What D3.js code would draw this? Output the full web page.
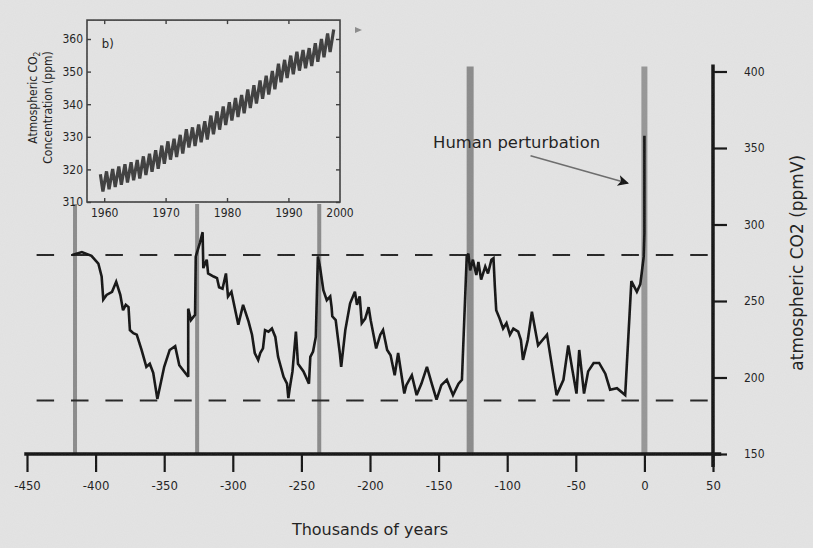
<!DOCTYPE html>
<html>
<head>
<meta charset="utf-8">
<script src="https://cdn.jsdelivr.net/npm/d3@7"></script>
<style>
  html, body { margin: 0; padding: 0; background: #e4e4e4; }
  svg { display: block; }
  text { fill: #1a1a1a; }
</style>
</head>
<body>
<svg id="chart" width="813" height="548"></svg>
<script>
// Vostok record, thousands of years vs CO2 (ppmV)
var kyr = [-417, -410, -403, -398, -395.6, -394.4, -392, -388, -385, -382, -380, -378, -376, -375, -372.5, -370,
  -366.5, -363, -360.5, -358, -355, -350, -346, -342, -339, -332.5, -332.5, -330.5, -327.5, -327, -324, -322,
  -321.5, -319, -318, -314, -311.5, -310, -307.5, -305, -303.5, -301, -299.5, -296, -292.5, -288.5, -286, -284,
  -281.5, -280, -278, -276.5, -274, -271.5, -269, -267, -263, -260.5, -259.5, -258.5, -256.5, -254, -252.5,
  -248.5, -244.5, -243.5, -241.5, -239.5, -238, -236.5, -234, -231.5, -229, -228, -227.5, -225, -223.5, -222,
  -221, -218, -214.5, -211, -209.5, -207.5, -206, -203.5, -201, -199.5, -195.5, -192.5, -190.5, -187.5, -185,
  -182, -179.5, -175, -173.5, -169.5, -166, -162.5, -158.5, -155, -151.5, -148, -144, -139.5, -135.5, -133,
  -129.5, -128.3, -127, -125, -122.5, -121, -119, -116, -114, -111.5, -110, -109, -108, -105.5, -103, -100.5,
  -98, -95.5, -92, -90, -88.5, -85, -82, -77.5, -71, -64, -59, -55.5, -52.5, -49.5, -47.5, -44, -41, -37, -33,
  -28.5, -25, -20, -14, -9.5, -5.5, -3, -2, -0.5, 0, 0];
var co2 = [280, 282, 279.5, 274.5, 266, 251, 254, 256, 262.5, 254, 244, 247.5, 246, 231, 229, 228,
  218, 207, 209, 203, 186, 207, 218, 220.5, 208, 200.5, 245, 237.5, 241, 279, 288, 295,
  271.5, 277, 268, 266, 265, 259, 258, 268, 253, 256, 249.5, 234.5, 247.5, 236.5, 228, 216,
  211.5, 216, 219, 231, 230, 232, 226.5, 213.5, 200.5, 196, 186.5, 193, 204, 230, 209,
  204, 196, 213.5, 217, 226.5, 279, 272.5, 257, 250.5, 253, 246, 240, 237.5, 226.5, 216,
  207, 231, 248.5, 256, 247.5, 253, 235.5, 238.5, 246, 237.5, 219, 228, 231, 218, 214.5,
  201.5, 216, 189.5, 195, 201.5, 188.5, 196, 207, 196, 185.5, 195, 198.5, 188.5, 196, 198.5,
  279, 281, 270, 277, 267, 275.5, 264, 272.5, 268, 277, 278, 259.5, 244, 238.5, 232, 235.5,
  228, 232, 230, 224.5, 211.5, 224.5, 243, 221, 228, 188.5, 198.5, 221, 205, 189.5, 218, 189.5, 204, 209.5, 209.5,
  202.5, 192, 193, 188.5, 263, 256, 261, 268, 279, 294, 358];

// interglacial markers and glacial / interglacial bounds
var interglacials = [-415, -326, -237, -127, 0];
var bounds = [280, 185];

var xTicks = [-450, -400, -350, -300, -250, -200, -150, -100, -50, 0, 50];
var yTicks = [150, 200, 250, 300, 350, 400];

// inset b): Mauna Loa, yearly spring high and autumn low (ppm)
var insetYears = [1959, 1960, 1961, 1962, 1963, 1964, 1965, 1966, 1967, 1968, 1969, 1970, 1971, 1972, 1973,
  1974, 1975, 1976, 1977, 1978, 1979, 1980, 1981, 1982, 1983, 1984, 1985, 1986, 1987, 1988, 1989, 1990, 1991,
  1992, 1993, 1994, 1995, 1996, 1997];
var insetHigh = [318.5, 319.4, 320.1, 320.9, 321.6, 322.2, 322.9, 324.0, 324.8, 325.9, 327.3, 328.6, 329.4,
  330.6, 332.3, 332.9, 333.8, 334.8, 336.5, 337.8, 339.3, 340.6, 341.9, 342.8, 344.5, 345.8, 347.3, 348.7,
  350.2, 352.4, 353.6, 354.9, 356.1, 356.6, 357.2, 358.7, 360.0, 361.7, 362.9];
var insetLow = [313.2, 313.9, 314.6, 315.3, 316.0, 316.7, 317.2, 318.3, 319.3, 320.2, 321.7, 323.0, 323.8,
  324.9, 326.7, 327.2, 328.3, 329.2, 330.8, 332.2, 333.6, 335.0, 336.1, 337.2, 338.8, 340.2, 341.7, 343.0,
  344.6, 346.7, 348.0, 349.2, 350.3, 351.0, 351.7, 353.0, 354.4, 356.0];
var insetXTicks = [1960, 1970, 1980, 1990];
var insetYTicks = [310, 320, 330, 340, 350, 360];

var svg = d3.select("#chart");
var bg = "#e4e4e4";

// a little paper grain
var defs = svg.append("defs");
var grain = defs.append("filter").attr("id", "grain");
grain.append("feTurbulence").attr("type", "fractalNoise").attr("baseFrequency", 0.9).attr("numOctaves", 2).attr("seed", 3);
grain.append("feColorMatrix").attr("type", "matrix")
  .attr("values", "0 0 0 0 0.5  0 0 0 0 0.5  0 0 0 0 0.5  0 0 0 0.10 0");
defs.append("marker")
    .attr("id", "head")
    .attr("viewBox", "0 0 10 10")
    .attr("refX", 9).attr("refY", 5)
    .attr("markerWidth", 12).attr("markerHeight", 11)
    .attr("markerUnits", "userSpaceOnUse")
    .attr("orient", "auto")
  .append("path").attr("d", "M0,0 L10,5 L0,10 L2.5,5 Z").attr("fill", "#111");

svg.append("rect").attr("width", 813).attr("height", 548).attr("fill", bg);

var x = d3.scaleLinear().domain([-450, 50]).range([27, 713]);
var y = d3.scaleLinear().domain([150, 400]).range([454, 71.5]);

// grey interglacial bars
svg.append("g").selectAll("line")
  .data(interglacials)
  .enter().append("line")
    .attr("x1", function(d) { return x(d); })
    .attr("x2", function(d) { return x(d); })
    .attr("y1", y(400) - 5)
    .attr("y2", y(150))
    .attr("stroke", function(d, i) { return i == 4 ? "#959595" : "#8a8a8a"; })
    .attr("stroke-width", function(d, i) { return i == 3 ? 7 : i == 4 ? 6 : 4; });

// dashed bounds
svg.append("g").selectAll("line")
  .data(bounds)
  .enter().append("line")
    .attr("x1", x(-443)).attr("x2", x(49))
    .attr("y1", function(d) { return y(d); })
    .attr("y2", function(d) { return y(d); })
    .attr("stroke", "#222")
    .attr("stroke-width", 2)
    .attr("stroke-dasharray", "17.5,16.9");

// Vostok curve
var pts = kyr.map(function(k, i) { return [k, co2[i]]; });
var line = d3.line().x(function(d) { return x(d[0]); }).y(function(d) { return y(d[1]); });
svg.append("path")
    .datum(pts)
    .attr("d", line)
    .attr("fill", "none")
    .attr("stroke", "#111")
    .attr("stroke-width", 2.6)
    .attr("stroke-linejoin", "miter")
    .attr("stroke-miterlimit", 3);

// x axis
var xAxis = svg.append("g")
    .attr("transform", "translate(0," + y(150) + ")")
    .call(d3.axisBottom(x).tickValues(xTicks).tickSize(18).tickPadding(9).tickFormat(d3.format("d")));
xAxis.select(".domain").remove();
xAxis.selectAll(".tick line").attr("stroke", "#111").attr("stroke-width", 2.2);
xAxis.selectAll("text").attr("font-family", "DejaVu Sans Condensed").attr("font-size", 13).attr("fill", "#1a1a1a")
  .text(function(d) { return d < 0 ? "-" + Math.abs(d) : d; });
svg.append("line")
    .attr("x1", x(-452)).attr("x2", x(56))
    .attr("y1", y(150)).attr("y2", y(150))
    .attr("stroke", "#111").attr("stroke-width", 3.5);

// y axis on the right
var yAxis = svg.append("g")
    .attr("transform", "translate(" + x(50) + ",0)")
    .call(d3.axisRight(y).tickValues(yTicks).tickSize(14).tickPadding(17));
yAxis.select(".domain").remove();
yAxis.selectAll(".tick line").attr("stroke", "#111").attr("stroke-width", 2.2);
yAxis.selectAll("text").attr("font-family", "DejaVu Sans Condensed").attr("font-size", 12).attr("fill", "#1a1a1a");
svg.append("line")
    .attr("x1", x(50)).attr("x2", x(50))
    .attr("y1", y(400) - 7).attr("y2", y(150) + 13)
    .attr("stroke", "#111").attr("stroke-width", 3.5);

svg.append("text")
    .attr("transform", "translate(" + 803 + "," + y(275) + ") rotate(-90)")
    .attr("text-anchor", "middle")
    .attr("font-family", "DejaVu Sans")
    .attr("font-size", 17)
    .text("atmospheric CO2 (ppmV)");

svg.append("text")
    .attr("x", x(-200))
    .attr("y", 535)
    .attr("text-anchor", "middle")
    .attr("font-family", "DejaVu Sans")
    .attr("font-size", 16)
    .text("Thousands of years");

// annotation
svg.append("text")
    .attr("x", x(-154))
    .attr("y", y(350))
    .attr("font-family", "DejaVu Sans")
    .attr("font-size", 15)
    .attr("textLength", 167)
    .attr("lengthAdjust", "spacingAndGlyphs")
    .text("Human perturbation");
svg.append("line")
    .attr("x1", x(-83)).attr("y1", y(345))
    .attr("x2", x(-12)).attr("y2", y(327))
    .attr("stroke", "#6a6a6a").attr("stroke-width", 1.6)
    .attr("marker-end", "url(#head)");

// ---- inset b) ----
var ix = d3.scaleLinear().domain([1957.2, 1998.4]).range([87, 340]);
var iy = d3.scaleLinear().domain([310, 360]).range([202, 39]);
var inset = svg.append("g");
inset.append("rect")
    .attr("x", 18).attr("y", 8).attr("width", 332).attr("height", 196)
    .attr("fill", bg);
inset.append("rect")
    .attr("x", ix.range()[0]).attr("y", iy(365.8))
    .attr("width", ix.range()[1] - ix.range()[0])
    .attr("height", iy(310) - iy(365.8))
    .attr("fill", "none").attr("stroke", "#3a3a3a").attr("stroke-width", 1.6);

var seasonal = [];
insetYears.forEach(function(yr, i) {
  seasonal.push([yr + 0.38, insetHigh[i]]);
  if (insetLow[i] !== undefined) seasonal.push([yr + 0.79, insetLow[i]]);
});
inset.append("path")
    .datum(seasonal)
    .attr("d", d3.line().x(function(d) { return ix(d[0]); }).y(function(d) { return iy(d[1]); }))
    .attr("fill", "none")
    .attr("stroke", "#3c3c3c")
    .attr("stroke-width", 3.2);

var insetTop = iy(365.8);
var il = inset.append("g").attr("transform", "translate(" + ix.range()[0] + ",0)")
    .call(d3.axisLeft(iy).tickValues(insetYTicks).tickSize(-4).tickPadding(4));
var ir = inset.append("g").attr("transform", "translate(" + ix.range()[1] + ",0)")
    .call(d3.axisRight(iy).tickValues(insetYTicks).tickSize(-4).tickFormat(""));
var ib = inset.append("g").attr("transform", "translate(0," + iy(310) + ")")
    .call(d3.axisBottom(ix).tickValues(insetXTicks).tickSize(-4).tickPadding(6).tickFormat(d3.format("d")));
var it = inset.append("g").attr("transform", "translate(0," + insetTop + ")")
    .call(d3.axisTop(ix).tickValues(insetXTicks).tickSize(-4).tickFormat(""));
[il, ir, ib, it].forEach(function(g) {
  g.select(".domain").remove();
  g.selectAll(".tick line").attr("stroke", "#3a3a3a").attr("stroke-width", 1.4);
  g.selectAll("text").attr("font-family", "DejaVu Sans Condensed").attr("font-size", 12).attr("fill", "#1a1a1a");
});
ib.append("text")
    .attr("x", ix.range()[1])
    .attr("y", 6)
    .attr("dy", "0.71em")
    .attr("text-anchor", "middle")
    .attr("font-family", "DejaVu Sans Condensed").attr("font-size", 12).attr("fill", "#1a1a1a")
    .text("2000");

inset.append("text")
    .attr("x", ix(1959.6)).attr("y", iy(357.2))
    .attr("font-family", "DejaVu Sans Condensed").attr("font-size", 13)
    .text("b)");

var ititle = inset.append("text")
    .attr("transform", "translate(37," + iy(342) + ") rotate(-90)")
    .attr("text-anchor", "middle")
    .attr("font-family", "DejaVu Sans Condensed")
    .attr("font-size", 12);
ititle.append("tspan").text("Atmospheric CO");
ititle.append("tspan").attr("font-size", 8.5).attr("dy", 3).text("2");
inset.append("text")
    .attr("transform", "translate(52," + iy(339) + ") rotate(-90)")
    .attr("text-anchor", "middle")
    .attr("font-family", "DejaVu Sans Condensed")
    .attr("font-size", 12)
    .text("Concentration (ppm)");

// stray mark next to the inset
svg.append("path")
    .attr("d", "M355,27 L362,30 L355,33 Z")
    .attr("fill", "#8a8a8a");

// grain overlay
svg.append("rect").attr("width", 813).attr("height", 548)
    .attr("filter", "url(#grain)").attr("pointer-events", "none");
</script>
</body>
</html>
